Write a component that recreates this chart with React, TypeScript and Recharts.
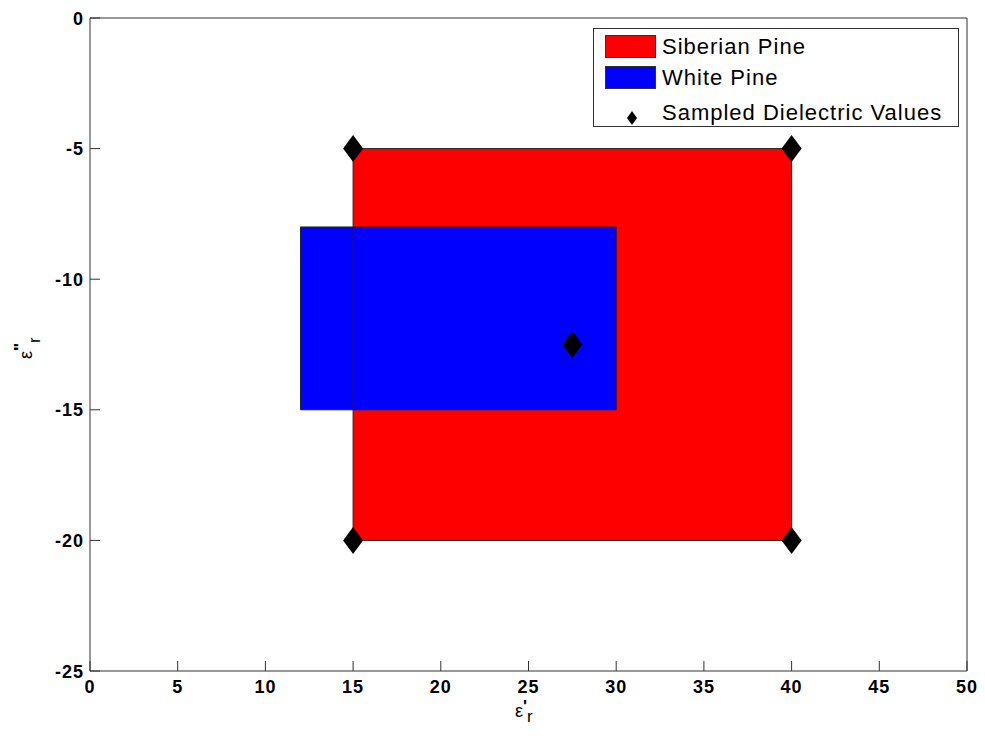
import React from "react";
import {
  ScatterChart,
  Scatter,
  XAxis,
  YAxis,
  ReferenceArea,
  Legend,
} from "recharts";

// permittivity ranges (real part on x, imaginary part on y)
const siberianX = [15, 40];
const siberianY = [-20, -5];
const whiteX = [12, 30];
const whiteY = [-15, -8];

const sampledX = [15, 40, 15, 40, 27.5];
const sampledY = [-5, -5, -20, -20, -12.5];

const xTicks = [0, 5, 10, 15, 20, 25, 30, 35, 40, 45, 50];
const yTicks = [-25, -20, -15, -10, -5, 0];

const legendNames = ["Siberian Pine", "White Pine", "Sampled Dielectric Values"];

const sampled = sampledX.map((x, i) => ({ x, y: sampledY[i] }));

const AXIS = "#333";
const FONT = "'Liberation Sans', Arial, sans-serif";

const tickText = {
  fontFamily: FONT,
  fontSize: 18,
  fontWeight: 700,
  fill: "#000",
  letterSpacing: 1,
};

function BottomTick(props: any) {
  const { x, y, payload } = props;
  return (
    <g>
      <line x1={x} x2={x} y1={y} y2={y - 10} stroke={AXIS} />
      <text x={x} y={y + 22} textAnchor="middle" {...tickText}>
        {payload.value}
      </text>
    </g>
  );
}

function TopTick(props: any) {
  const { x, y } = props;
  return <line x1={x} x2={x} y1={y} y2={y + 9} stroke={AXIS} />;
}

function LeftTick(props: any) {
  const { x, y, payload } = props;
  return (
    <g>
      <line x1={x} x2={x + 10} y1={y} y2={y} stroke={AXIS} />
      <text x={x - 6} y={y + 6.5} textAnchor="end" {...tickText}>
        {payload.value}
      </text>
    </g>
  );
}

function RightTick(props: any) {
  const { x, y } = props;
  return <line x1={x} x2={x - 10} y1={y} y2={y} stroke={AXIS} />;
}

function Diamond(props: any) {
  const { cx, cy } = props;
  const w = 10;
  const h = 13.5;
  return (
    <polygon
      points={`${cx},${cy - h} ${cx + w},${cy} ${cx},${cy + h} ${cx - w},${cy}`}
      fill="#000"
    />
  );
}

function XLabel() {
  return (
    <text x={515} y={717} fontFamily={FONT} fontSize={18} fill="#000">
      ε
      <tspan fontSize={17} fontWeight={700} dy={-5}>'</tspan>
      <tspan fontSize={17} dy={10}>r</tspan>
    </text>
  );
}

function YLabel() {
  return (
    <text
      x={32}
      y={359}
      transform="rotate(-90 32 359)"
      fontFamily={FONT}
      fontSize={18}
      fill="#000"
    >
      ε
      <tspan fontSize={17} fontWeight={700} dy={-6}>"</tspan>
      <tspan fontSize={17} dy={14}>r</tspan>
    </text>
  );
}

function LegendBox() {
  const swatches = ["#ff0000", "#0000ff"];
  const rowTop = [6, 37];
  return (
    <div
      style={{
        position: "relative",
        width: 366,
        height: 99,
        border: "1px solid #333",
        background: "#fff",
        fontFamily: FONT,
        fontSize: 22,
        letterSpacing: 1,
        color: "#000",
        boxSizing: "border-box",
      }}
    >
      {swatches.map((c, i) => (
        <div key={c}>
          <div
            style={{
              position: "absolute",
              left: 11,
              top: rowTop[i],
              width: 51,
              height: 23,
              background: c,
              border: "1px solid #333",
              boxSizing: "border-box",
            }}
          />
          <div style={{ position: "absolute", left: 68, top: rowTop[i] - 2, lineHeight: "28px" }}>
            {legendNames[i]}
          </div>
        </div>
      ))}
      <svg style={{ position: "absolute", left: 31, top: 81 }} width={14} height={16}>
        <polygon points="7,1 12,8 7,15 2,8" fill="#000" />
      </svg>
      <div style={{ position: "absolute", left: 68, top: 70, lineHeight: "28px" }}>
        {legendNames[2]}
      </div>
    </div>
  );
}

export default function App() {
  return (
    <div style={{ position: "absolute", left: 0, top: 0, background: "#fff" }}>
      <ScatterChart width={985} height={738} margin={{ top: 0, right: 0, bottom: 0, left: 0 }}>
        <XAxis
          xAxisId="b"
          type="number"
          dataKey="x"
          domain={[0, 50]}
          ticks={xTicks}
          interval={0}
          height={67}
          tickSize={0}
          tickMargin={0}
          tickLine={false}
          tick={<BottomTick />}
          axisLine={{ stroke: AXIS }}
          label={{ content: () => <XLabel /> }}
        />
        <XAxis
          xAxisId="t"
          orientation="top"
          type="number"
          domain={[0, 50]}
          ticks={xTicks}
          interval={0}
          height={18}
          tickSize={0}
          tickMargin={0}
          tickLine={false}
          tick={<TopTick />}
          axisLine={{ stroke: AXIS }}
        />
        <YAxis
          yAxisId="l"
          type="number"
          dataKey="y"
          domain={[-25, 0]}
          ticks={yTicks}
          interval={0}
          width={90}
          tickSize={0}
          tickMargin={0}
          tickLine={false}
          tick={<LeftTick />}
          axisLine={{ stroke: AXIS }}
          label={{ content: () => <YLabel /> }}
        />
        <YAxis
          yAxisId="r"
          orientation="right"
          type="number"
          domain={[-25, 0]}
          ticks={yTicks}
          interval={0}
          width={18}
          tickSize={0}
          tickMargin={0}
          tickLine={false}
          tick={<RightTick />}
          axisLine={{ stroke: AXIS }}
        />
        <ReferenceArea
          xAxisId="b"
          yAxisId="l"
          x1={siberianX[0]}
          x2={siberianX[1]}
          y1={siberianY[0]}
          y2={siberianY[1]}
          fill="#ff0000"
          fillOpacity={1}
          stroke="none"
        />
        <ReferenceArea
          xAxisId="b"
          yAxisId="l"
          x1={whiteX[0]}
          x2={whiteX[1]}
          y1={whiteY[0]}
          y2={whiteY[1]}
          fill="#0000ff"
          fillOpacity={1}
          stroke="#222"
        />
        <ReferenceArea
          xAxisId="b"
          yAxisId="l"
          x1={siberianX[0]}
          x2={siberianX[1]}
          y1={siberianY[0]}
          y2={siberianY[1]}
          fill="none"
          fillOpacity={0}
          stroke="#222"
        />
        <Scatter
          xAxisId="b"
          yAxisId="l"
          data={sampled}
          shape={<Diamond />}
          isAnimationActive={false}
        />
        <Legend
          layout="horizontal"
          verticalAlign="middle"
          align="center"
          content={() => <LegendBox />}
          wrapperStyle={{ position: "absolute", left: 593, top: 28, width: 366, height: 99 }}
        />
      </ScatterChart>
    </div>
  );
}
